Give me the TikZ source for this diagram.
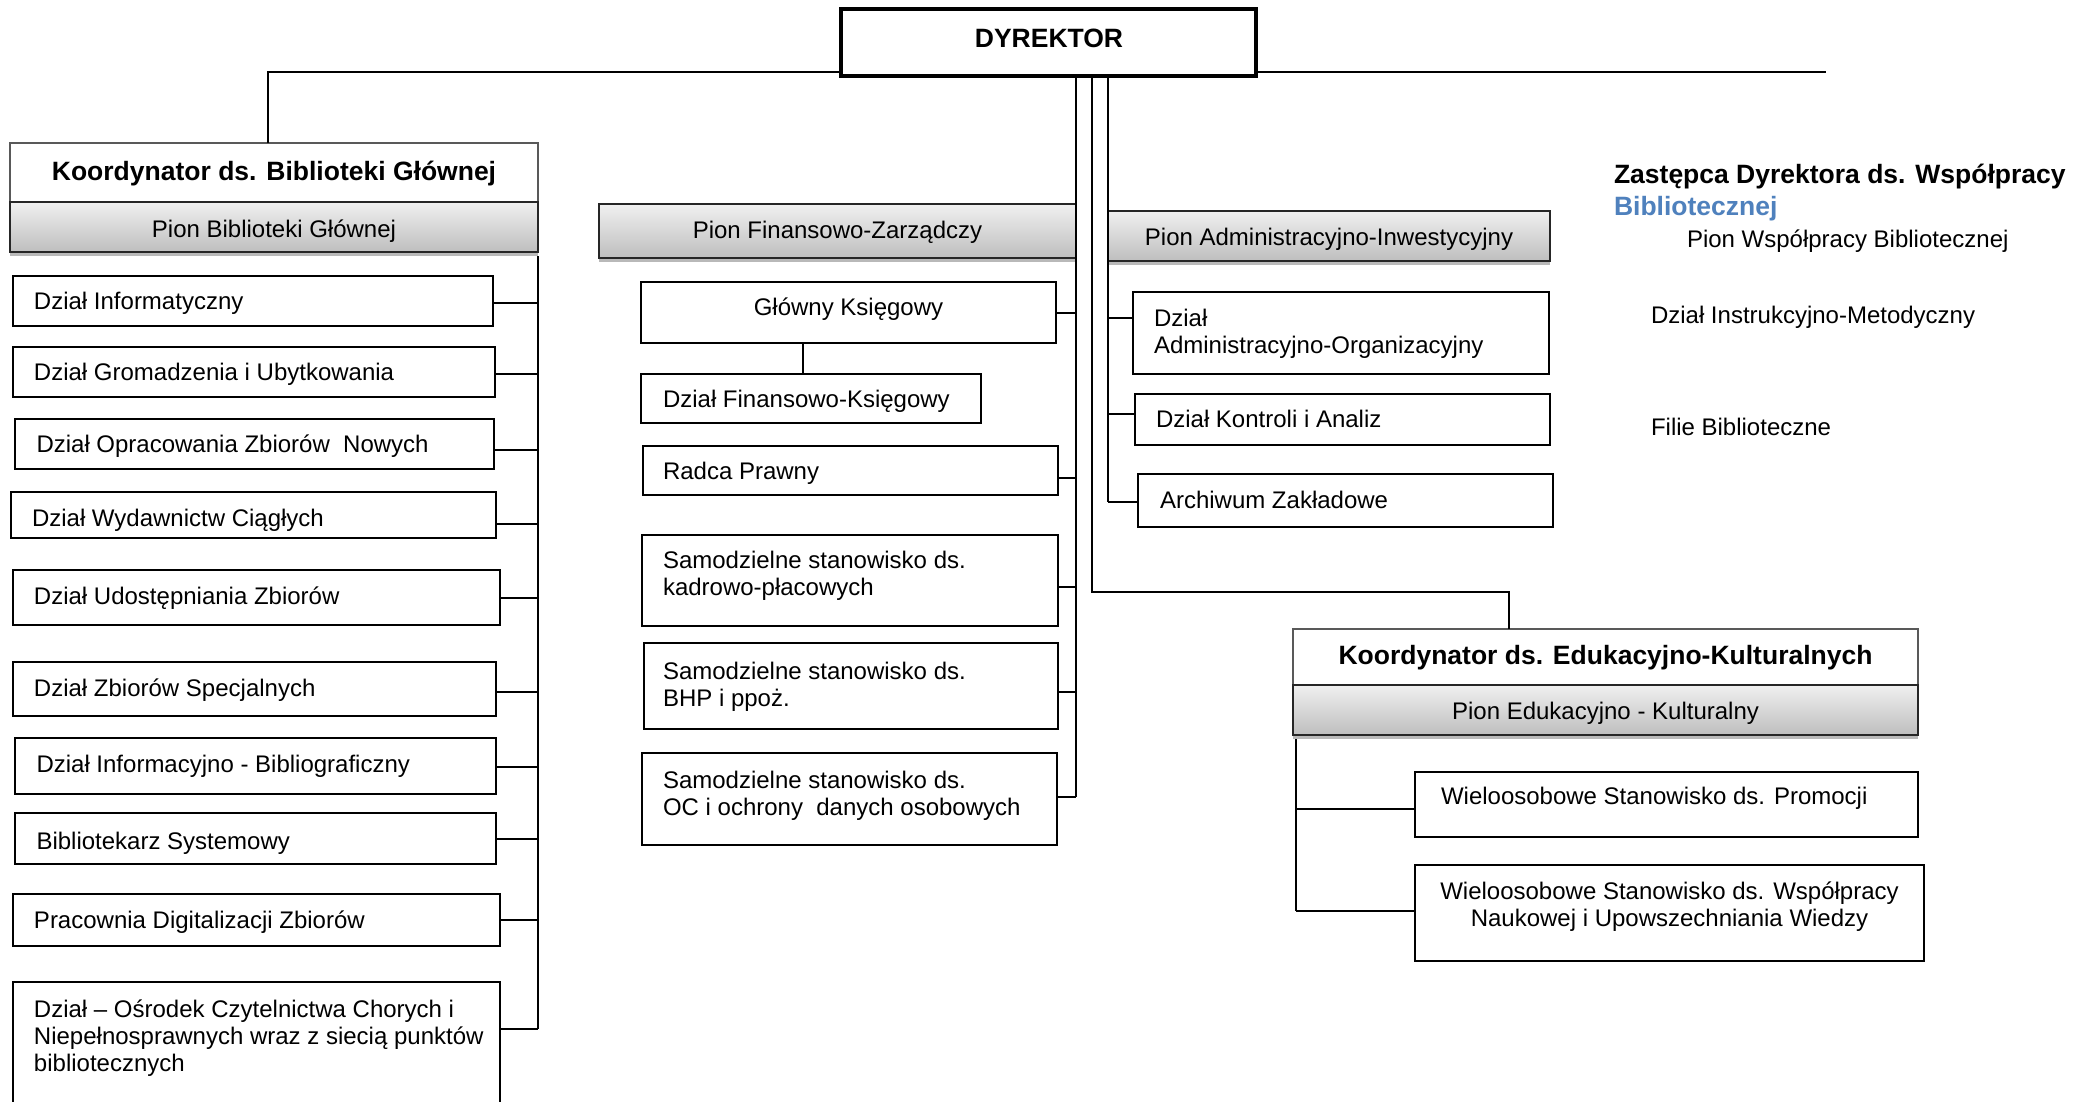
\documentclass[tikz,border=0pt]{standalone}
\usepackage{fontspec}
\setmainfont{Liberation Sans}
\usetikzlibrary{calc}
\definecolor{offblue}{RGB}{79,129,189}
\definecolor{piontop}{RGB}{240,240,240}
\definecolor{pionbot}{RGB}{190,190,190}
\newcommand\mkbox[6]{\node[#6, minimum width={(#4)-(#2)}, minimum height={(#5)-(#3)}] (#1) at ({((#2)+(#4))/2},{((#3)+(#5))/2}) {};}
\newcommand\brR[3]{\path ([yshift=#2]#1.east) coordinate (#1-b); \draw[conn] (#1-b) -- (#1-b -| #3);}
\newcommand\brL[3]{\path ([yshift=#2]#1.west) coordinate (#1-b); \draw[conn] (#1-b) -- (#1-b -| #3);}
\begin{document}
\begin{tikzpicture}[x=1pt,y=-1pt,
  conn/.style={line width=2pt},
  bx/.style={draw, line width=2pt, fill=white, inner sep=0, outer sep=0},
  kbx/.style={draw=black!65, line width=1.3pt, fill=white, inner sep=0, outer sep=0},
  pbx/.style={draw=black!85, line width=2.5pt, top color=piontop, bottom color=pionbot, inner sep=0, outer sep=0},
  shd/.style={fill=gray!55, inner sep=0, outer sep=0},
  dbx/.style={draw, line width=4pt, fill=white, inner sep=0, outer sep=0},
  lbl/.style={inner sep=0, outer sep=0, font=\fontsize{24}{27}\selectfont, anchor=base west, align=left},
  lblc/.style={inner sep=0, outer sep=0, font=\fontsize{24}{27}\selectfont, anchor=base, align=center},
  hd/.style={inner sep=0, outer sep=0, font=\fontsize{26.5}{30}\selectfont\bfseries, anchor=base},
  hdl/.style={inner sep=0, outer sep=0, font=\fontsize{26.5}{30}\selectfont\bfseries, anchor=base west}]
\useasboundingbox[fill=white] (0,0) rectangle (2091,1101);

% ---- boxes ----
\mkbox{dyr}{841}{9}{1256}{76}{dbx}
\mkbox{kbg}{10}{143}{538}{202}{kbx}
\mkbox{pbgs}{10}{252}{538}{256}{shd}
\mkbox{pbg}{10}{202}{538}{252}{pbx}

\mkbox{inf}{13}{276}{493}{326}{bx}
\mkbox{grom}{13}{347}{495}{397}{bx}
\mkbox{opr}{15}{419}{494}{469}{bx}
\mkbox{wyd}{11}{492}{496}{538}{bx}
\mkbox{udo}{13}{570}{500}{625}{bx}
\mkbox{zsp}{13}{662}{496}{716}{bx}
\mkbox{ibi}{15}{738}{496}{794}{bx}
\mkbox{bsy}{15}{813}{496}{864}{bx}
\mkbox{pdz}{13}{894}{500}{946}{bx}
\mkbox{osr}{13}{982}{500}{1110}{bx}

\mkbox{pfzs}{599}{258}{1076}{262}{shd}
\mkbox{pfz}{599}{204}{1076}{258}{pbx}
\mkbox{gk}{641}{282}{1056}{343}{bx}
\mkbox{fk}{641}{374}{981}{423}{bx}
\mkbox{rp}{643}{446}{1058}{495}{bx}
\mkbox{kad}{642}{535}{1058}{626}{bx}
\mkbox{bhp}{644}{643}{1058}{729}{bx}
\mkbox{oc}{642}{753}{1057}{845}{bx}

\mkbox{pads}{1108}{261}{1550}{265}{shd}
\mkbox{pad}{1108}{211}{1550}{261}{pbx}
\mkbox{aorg}{1133}{292}{1549}{374}{bx}
\mkbox{kon}{1135}{394}{1550}{445}{bx}
\mkbox{arch}{1138}{474}{1553}{527}{bx}

\mkbox{kedu}{1293}{629}{1918}{685}{kbx}
\mkbox{pedus}{1293}{735}{1918}{739}{shd}
\mkbox{pedu}{1293}{685}{1918}{735}{pbx}
\mkbox{prom}{1415}{772}{1918}{837}{bx}
\mkbox{wsp}{1415}{865}{1924}{961}{bx}

% ---- connectors ----
\path ([yshift=-29.5pt]dyr.west) coordinate (dl);
\path ([yshift=-29.5pt]dyr.east) coordinate (dr);
\path ([xshift=-6pt]kbg.north) coordinate (kbg-in);
\coordinate (rend) at (1826,72);
\draw[conn] (dl) -| (kbg-in);
\draw[conn] (dr) -- (rend);

% left bus
\brR{inf}{-2pt}{pbg.south east}
\brR{grom}{-2pt}{pbg.south east}
\brR{opr}{-6pt}{pbg.south east}
\brR{wyd}{-9pt}{pbg.south east}
\brR{udo}{0pt}{pbg.south east}
\brR{zsp}{-3pt}{pbg.south east}
\brR{ibi}{-1pt}{pbg.south east}
\brR{bsy}{0pt}{pbg.south east}
\brR{pdz}{0pt}{pbg.south east}
\brR{osr}{17pt}{pbg.south east}
\draw[conn] (pbgs.south east) -- (osr-b -| pbgs.south east);

% finance bus
\brR{gk}{0pt}{pfz.east}
\brR{rp}{-7.5pt}{pfz.east}
\brR{kad}{-6.5pt}{pfz.east}
\brR{bhp}{-6pt}{pfz.east}
\brR{oc}{2pt}{pfz.east}
\draw[conn] (dyr.south -| pfz.east) -- (oc-b -| pfz.east);
\path ([xshift=-8pt]fk.north) coordinate (fk-t);
\draw[conn] (fk-t) -- (fk-t |- gk.south);

% education bus from director
\coordinate (b2) at (1092,592);
\path ([xshift=-96.5pt]kedu.north) coordinate (kedu-in);
\draw[conn] (dyr.south -| b2) -- (b2) -| (kedu-in);

% admin bus
\brL{aorg}{15pt}{pad.west}
\brL{kon}{5.5pt}{pad.west}
\brL{arch}{-1.5pt}{pad.west}
\draw[conn] (dyr.south -| pad.west) -- (arch-b -| pad.west);

% edu bus
\coordinate (b4) at (1296,739);
\brL{prom}{-4.5pt}{b4}
\brL{wsp}{2pt}{b4}
\draw[conn] (b4) -- (wsp-b -| b4);

% ---- texts ----
\node[hd] (dyr-t) at (1049,47) {DYREKTOR};
\node[hd] (kbg-t) at (274,180) {Koordynator ds. Biblioteki Głównej};
\node[lblc] (pbg-t) at (274,237) {Pion Biblioteki Głównej};
\node[lblc] (pfz-t) at (837.5,238) {Pion Finansowo-Zarządczy};
\node[lblc] (pad-t) at (1329,245) {Pion Administracyjno-Inwestycyjny};
\node[hd] (kedu-t) at (1605.5,664) {Koordynator ds. Edukacyjno-Kulturalnych};
\node[lblc] (pedu-t) at (1605.5,719) {Pion Edukacyjno - Kulturalny};

\node[lbl] (inf-t) at (34,309) {Dział Informatyczny};
\node[lbl] (grom-t) at (34,380) {Dział Gromadzenia i Ubytkowania};
\node[lbl] (opr-t) at (36.5,452) {Dział Opracowania Zbiorów\ \ Nowych};
\node[lbl] (wyd-t) at (32,526) {Dział Wydawnictw Ciągłych};
\node[lbl] (udo-t) at (34,604) {Dział Udostępniania Zbiorów};
\node[lbl] (zsp-t) at (34,696) {Dział Zbiorów Specjalnych};
\node[lbl] (ibi-t) at (36.5,772) {Dział Informacyjno - Bibliograficzny};
\node[lbl] (bsy-t) at (36.5,849) {Bibliotekarz Systemowy};
\node[lbl] (pdz-t) at (34,928) {Pracownia Digitalizacji Zbiorów};
\node[lbl] (osr-t) at (34,1071) {Dział – Ośrodek Czytelnictwa Chorych i\\Niepełnosprawnych wraz z siecią punktów\\bibliotecznych};

\node[lblc] (gk-t) at (848.5,315) {Główny Księgowy};
\node[lbl] (fk-t2) at (663,407) {Dział Finansowo-Księgowy};
\node[lbl] (rp-t) at (663,479) {Radca Prawny};
\node[lbl] (kad-t) at (663,595) {Samodzielne stanowisko ds.\\kadrowo-płacowych};
\node[lbl] (bhp-t) at (663,706) {Samodzielne stanowisko ds.\\BHP i ppoż.};
\node[lbl] (oc-t) at (663,815) {Samodzielne stanowisko ds.\\OC i ochrony\ \ danych osobowych};

\node[lbl] (aorg-t) at (1154,353) {Dział\\Administracyjno-Organizacyjny};
\node[lbl] (kon-t) at (1156,427) {Dział Kontroli i Analiz};
\node[lbl] (arch-t) at (1160,508) {Archiwum Zakładowe};

\node[lbl] (prom-t) at (1441,804) {Wieloosobowe Stanowisko ds. Promocji};
\node[lblc] (wsp-t) at (1669.5,926) {Wieloosobowe Stanowisko ds. Współpracy\\Naukowej i Upowszechniania Wiedzy};

\node[hdl] (zast-t) at (1614,183) {Zastępca Dyrektora ds. Współpracy};
\node[hdl, text=offblue] (zast-t2) at (1614,215) {Bibliotecznej};
\node[lbl] (pwb-t) at (1687,247) {Pion Współpracy Bibliotecznej};
\node[lbl] (dim-t) at (1651,323) {Dział Instrukcyjno-Metodyczny};
\node[lbl] (fil-t) at (1651,435) {Filie Biblioteczne};
\end{tikzpicture}
\end{document}
